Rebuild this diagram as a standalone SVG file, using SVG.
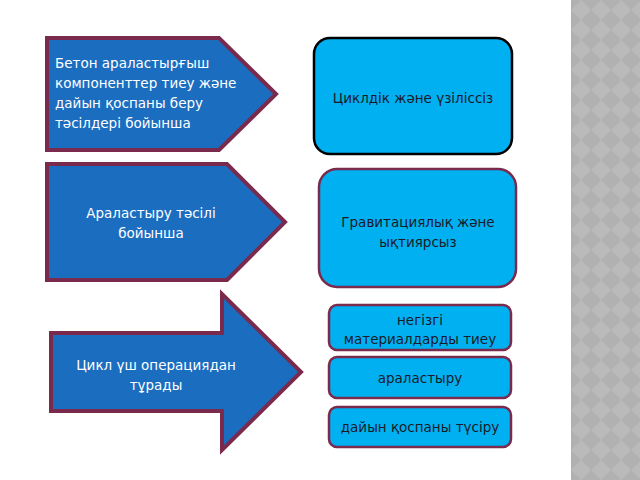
<svg xmlns="http://www.w3.org/2000/svg" width="640" height="480" viewBox="0 0 640 480">
<defs>
<pattern id="chk" x="571" y="0" width="20" height="20" patternUnits="userSpaceOnUse">
<rect width="20" height="20" fill="#b1b1b1"/>
<path d="M10 0 L20 10 L10 20 L0 10 Z" fill="#bababa"/>
</pattern>
<style>
.lshape{fill:#1b6dbf;stroke:#7a2a4c;stroke-width:4;stroke-linejoin:miter}
.rbox{fill:#00b0f0;stroke:#7a2a4c;stroke-width:2.5}
.wt{font-family:"DejaVu Sans",sans-serif;font-size:13.5px;fill:#ffffff}
.dt{font-family:"DejaVu Sans",sans-serif;font-size:13.5px;fill:#1a1a2a;text-anchor:middle}
</style>
</defs>
<rect width="640" height="480" fill="#ffffff"/>
<rect x="571" y="0" width="69" height="480" fill="url(#chk)"/>
<g id="node-left1">
<path class="lshape" d="M47 38 L219 38 L276 94 L219 150 L47 150 Z"/>
<text class="wt" x="55" y="68">Бетон араластырғыш</text>
<text class="wt" x="55" y="88">компоненттер тиеу және</text>
<text class="wt" x="55" y="108">дайын қоспаны беру</text>
<text class="wt" x="55" y="128">тәсілдері бойынша</text>
</g>
<g id="node-left2">
<path class="lshape" d="M47 164 L227 164 L285 222 L227 280 L47 280 Z"/>
<text class="wt" x="151" y="218" text-anchor="middle">Араластыру тәсілі</text>
<text class="wt" x="151" y="238" text-anchor="middle">бойынша</text>
</g>
<g id="node-left3">
<path class="lshape" d="M51 333 L222 333 L222 294 L301 372 L222 450 L222 411 L51 411 Z"/>
<text class="wt" x="156" y="370" text-anchor="middle">Цикл үш операциядан</text>
<text class="wt" x="156" y="390" text-anchor="middle">тұрады</text>
</g>
<g id="node-right1">
<rect x="314" y="38" width="198" height="116" rx="16" fill="#00b0f0" stroke="#000000" stroke-width="2.5"/>
<text class="dt" x="413" y="103">Циклдік және үзіліссіз</text>
</g>
<g id="node-right2">
<rect class="rbox" x="319" y="169" width="197" height="118" rx="18"/>
<text class="dt" x="418" y="227">Гравитациялық және</text>
<text class="dt" x="418" y="247">ықтиярсыз</text>
</g>
<g id="node-step1">
<rect class="rbox" x="329" y="305" width="182" height="45" rx="8"/>
<text class="dt" x="420" y="325">негізгі</text>
<text class="dt" x="420" y="344">материалдарды тиеу</text>
</g>
<g id="node-step2">
<rect class="rbox" x="329" y="357" width="182" height="41" rx="8"/>
<text class="dt" x="420" y="383">араластыру</text>
</g>
<g id="node-step3">
<rect class="rbox" x="329" y="407" width="182" height="40" rx="8"/>
<text class="dt" x="420" y="432">дайын қоспаны түсіру</text>
</g>
<g id="connectors"></g>
</svg>
